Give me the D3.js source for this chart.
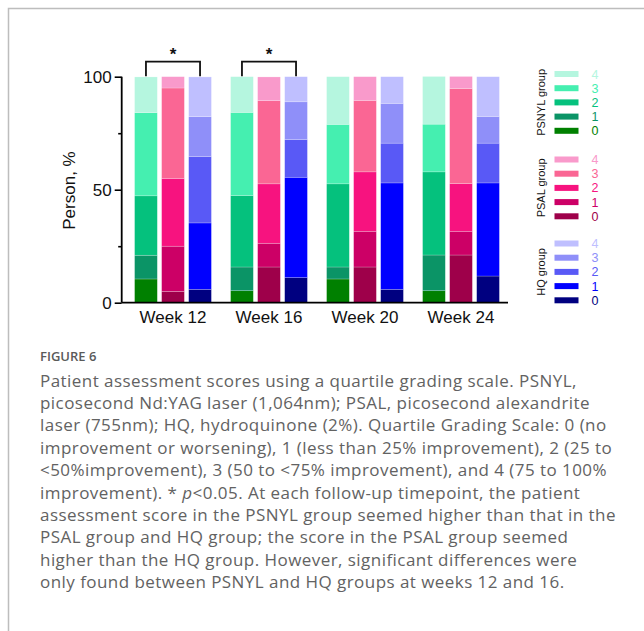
<!DOCTYPE html>
<html>
<head>
<meta charset="utf-8">
<script src="https://cdn.jsdelivr.net/npm/d3@7"></script>
<style>
  html, body { margin: 0; padding: 0; background: #fff; }
  svg { display: block; }
</style>
</head>
<body>
<div id="chart"></div>
<script>
// chart data (percent of patients at each grade, 0..4)
const weeks = ["Week 12", "Week 16", "Week 20", "Week 24"];
const groups = ["PSNYL", "PSAL", "HQ"];
const levels = ["0", "1", "2", "3", "4"];
const psnylPct = [
  [10.5, 10.5, 26.3, 36.8, 15.8],
  [5.3, 10.5, 31.6, 36.8, 15.8],
  [10.5, 5.3, 36.8, 26.3, 21.1],
  [5.3, 15.8, 36.8, 21.1, 21.1]
];
const psalPct = [
  [5.0, 20.0, 30.0, 40.0, 5.0],
  [15.8, 10.5, 26.3, 36.8, 10.5],
  [15.8, 15.8, 26.3, 31.6, 10.5],
  [21.1, 10.5, 21.1, 42.1, 5.3]
];
const hqPct = [
  [5.9, 29.4, 29.4, 17.6, 17.6],
  [11.1, 44.4, 16.7, 16.7, 11.1],
  [5.9, 47.1, 17.6, 17.6, 11.8],
  [11.8, 41.2, 17.6, 11.8, 17.6]
];
const yTicks = [0, 50, 100];
const sigWeeks = ["Week 12", "Week 16"];

const captionTitle = "FIGURE 6";
const captionLines = [
  "Patient assessment scores using a quartile grading scale. PSNYL,",
  "picosecond Nd:YAG laser (1,064nm); PSAL, picosecond alexandrite",
  "laser (755nm); HQ, hydroquinone (2%). Quartile Grading Scale: 0 (no",
  "improvement or worsening), 1 (less than 25% improvement), 2 (25 to",
  "<50%improvement), 3 (50 to <75% improvement), and 4 (75 to 100%",
  "improvement). * |p|<0.05. At each follow-up timepoint, the patient",
  "assessment score in the PSNYL group seemed higher than that in the",
  "PSAL group and HQ group; the score in the PSAL group seemed",
  "higher than the HQ group. However, significant differences were",
  "only found between PSNYL and HQ groups at weeks 12 and 16."
];

const palette = {
  PSNYL: ["#008000", "#0b9466", "#05c17d", "#45efb0", "#b5f6df"],
  PSAL:  ["#9e004a", "#cc0066", "#f7137f", "#fa6694", "#f99acb"],
  HQ:    ["#000080", "#0000ff", "#5959f6", "#8f8ff9", "#bfbfff"]
};

const W = 644, H = 631;
const svg = d3.select("#chart").append("svg")
  .attr("width", W).attr("height", H);

// card border
svg.append("path")
  .attr("d", `M8.5,${H} V8.5 H${W}`)
  .attr("fill", "none")
  .attr("stroke", "#bdbdbd")
  .attr("stroke-width", 1.5);

// build table
const pctByGroup = {PSNYL: psnylPct, PSAL: psalPct, HQ: hqPct};
let rows = [];
weeks.forEach((w, i) => {
  groups.forEach(g => {
    let r = {week: w, group: g};
    levels.forEach((l, j) => r[l] = pctByGroup[g][i][j]);
    rows.push(r);
  });
});
const series = d3.stack().keys(levels)(rows);

// scales
const y = d3.scaleLinear().domain([0, 100]).range([302.7, 76.7]);
const x0 = d3.scaleBand().domain(weeks).range([125, 509]).paddingInner(0.2).paddingOuter(0.1);
const x1 = d3.scaleBand().domain(groups).range([0, x0.bandwidth()]).paddingInner(0.16);

const axisX = 121.7;

// bars
const layer = svg.append("g");
series.forEach((s, li) => {
  layer.selectAll(null)
    .data(s)
    .enter().append("rect")
    .attr("x", d => x0(d.data.week) + x1(d.data.group))
    .attr("width", x1.bandwidth())
    .attr("y", d => y(d[1]))
    .attr("height", d => y(d[0]) - y(d[1]))
    .attr("fill", d => palette[d.data.group][li])
    .attr("stroke", "#ffffff")
    .attr("stroke-opacity", 0.35)
    .attr("stroke-width", 0.6);
});

// y axis (major and minor ticks)
const gy = svg.append("g")
  .attr("transform", `translate(${axisX},0)`)
  .call(d3.axisLeft(y).tickValues(yTicks).tickSize(7).tickPadding(3).tickFormat(d3.format("d")));
gy.select(".domain").attr("stroke-width", 1.8).attr("d", `M0,${y(100)}V${y(0)}`);
gy.selectAll(".tick line").attr("stroke-width", 1.6);
gy.selectAll(".tick text")
  .attr("font-family", "Liberation Sans, Arial, sans-serif")
  .attr("font-size", 17).attr("fill", "#111");
const gyMinor = svg.append("g")
  .attr("transform", `translate(${axisX},0)`)
  .call(d3.axisLeft(y).tickValues([25, 75]).tickSize(3.5).tickFormat(""));
gyMinor.select(".domain").remove();
gyMinor.selectAll(".tick line").attr("stroke-width", 1.6);

// x axis
const gx = svg.append("g")
  .attr("transform", `translate(0,${y(0)})`)
  .call(d3.axisBottom(x0).tickSize(0).tickPadding(8));
gx.select(".domain").attr("stroke-width", 1.8).attr("d", `M${axisX},0H508`);
gx.selectAll(".tick text")
  .attr("font-family", "Liberation Sans, Arial, sans-serif")
  .attr("font-size", 17).attr("fill", "#111");

// y label
svg.append("text")
  .attr("transform", `translate(75,190.5) rotate(-90)`)
  .attr("text-anchor", "middle")
  .attr("font-family", "Liberation Sans, Arial, sans-serif")
  .attr("font-size", 17).attr("fill", "#111")
  .text("Person, %");

// significance brackets
sigWeeks.forEach(w => {
  const xa = x0(w) + x1("PSNYL") + x1.bandwidth() / 2;
  const xb = x0(w) + x1("HQ") + x1.bandwidth() / 2;
  const yTop = 61.7, yBot = y(100) - 0.5;
  svg.append("path")
    .attr("d", `M${xa},${yBot}V${yTop}H${xb}V${yBot}`)
    .attr("fill", "none").attr("stroke", "#111").attr("stroke-width", 1.8);
  svg.append("text")
    .attr("x", (xa + xb) / 2).attr("y", 60)
    .attr("text-anchor", "middle")
    .attr("font-family", "Liberation Sans, Arial, sans-serif")
    .attr("font-weight", "bold")
    .attr("font-size", 17).attr("fill", "#111")
    .text("*");
});

// legend
const legendTop = {PSNYL: 74, PSAL: 159.5, HQ: 243.5};
const legendStep = 14.2;
groups.forEach(g => {
  const lg = svg.append("g");
  const order = levels.slice().reverse();
  order.forEach((l, i) => {
    const cy = legendTop[g] + i * legendStep;
    lg.append("rect")
      .attr("x", 554.5).attr("y", cy - 3)
      .attr("width", 24).attr("height", 6)
      .attr("fill", palette[g][+l]);
    lg.append("text")
      .attr("x", 595).attr("y", cy + 4.5)
      .attr("text-anchor", "middle")
      .attr("font-family", "Liberation Sans, Arial, sans-serif")
      .attr("font-size", 12.5)
      .attr("fill", palette[g][+l])
      .text(l);
  });
  const mid = legendTop[g] + 2 * legendStep;
  lg.append("text")
    .attr("transform", `translate(545,${mid}) rotate(-90)`)
    .attr("text-anchor", "middle")
    .attr("font-family", "Liberation Sans, Arial, sans-serif")
    .attr("font-size", 11).attr("fill", "#111")
    .text(g + " group");
});

// caption
svg.append("text")
  .attr("x", 40).attr("y", 361)
  .attr("font-family", "Open Sans, sans-serif")
  .attr("font-weight", 600)
  .attr("font-size", 13).attr("fill", "#5a5a5a")
  .text(captionTitle);

const cap = svg.append("text")
  .attr("font-family", "Open Sans, sans-serif")
  .attr("font-size", 17)
  .attr("letter-spacing", 0.45)
  .attr("fill", "#626262");
captionLines.forEach((line, i) => {
  const t = cap.append("tspan").attr("x", 40).attr("y", 386.5 + i * 22.4);
  line.split("|").forEach((part, k) => {
    t.append("tspan").attr("font-style", k % 2 ? "italic" : null).text(part);
  });
});
</script>
</body>
</html>
